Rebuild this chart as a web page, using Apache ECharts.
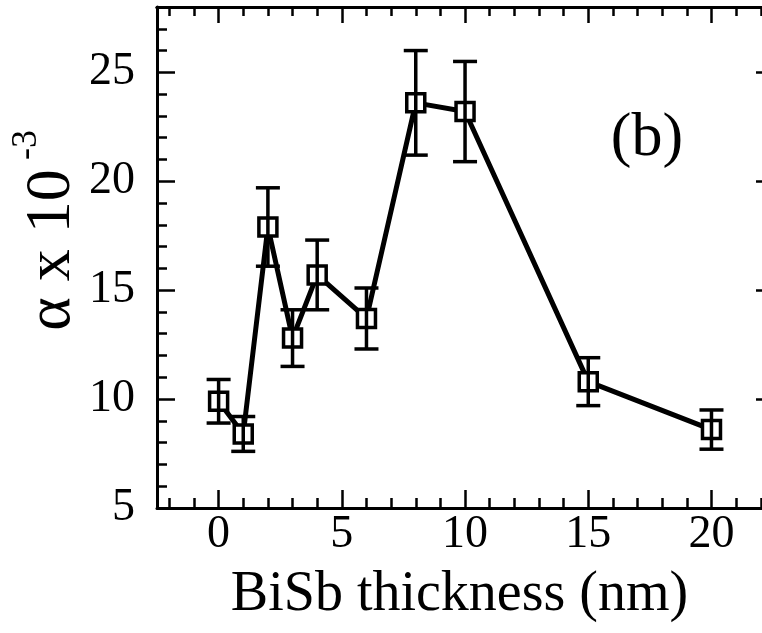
<!DOCTYPE html>
<html>
<head>
<meta charset="utf-8">
<script src="https://cdn.jsdelivr.net/npm/echarts@6/dist/echarts.min.js"></script>
<style>
  html, body { margin: 0; padding: 0; background: #fff; }
  #chart { width: 762px; height: 633px; }
</style>
</head>
<body>
<div id="chart"></div>
<script>
  // BiSb thickness (nm) vs alpha x 10^-3
  const thickness = [0, 1, 2, 3, 4, 6, 8, 10, 15, 20];
  const alpha = [9.9, 8.4, 17.9, 12.8, 15.7, 13.7, 23.6, 23.2, 10.8, 8.6];
  const alphaErr = [1.0, 0.8, 1.8, 1.3, 1.6, 1.4, 2.4, 2.3, 1.1, 0.9];

  const xMajorTicks = [0, 5, 10, 15, 20];
  const xMinorTicks = [-2, -1, 1, 2, 3, 4, 6, 7, 8, 9, 11, 12, 13, 14, 16, 17, 18, 19, 21, 22];
  const yMajorTicks = [5, 10, 15, 20, 25];
  const yMinorTicks = [6, 7, 8, 9, 11, 12, 13, 14, 16, 17, 18, 19, 21, 22, 23, 24, 26, 27];

  const font = "Liberation Serif";
  // the original figure is cropped on the right, just past x = 22
  const xMin = -2.5, xMax = 22.05, yMin = 5, yMax = 28;

  const points = thickness.map((x, i) => [x, alpha[i]]);
  const bars = thickness.map((x, i) => [x, alpha[i] - alphaErr[i], alpha[i] + alphaErr[i]]);

  // one value axis, used 4 times per direction (major/minor ticks, both sides)
  function xAx(pos, ticks, len, labels) {
    return {
      type: "value", position: pos, min: xMin, max: xMax,
      splitLine: { show: false },
      axisLine: { show: labels !== undefined || pos === "top", onZero: false, lineStyle: { color: "#000", width: 3 } },
      axisTick: { inside: true, length: len, customValues: ticks, lineStyle: { color: "#000", width: 2.5 } },
      axisLabel: labels ? {
        customValues: labels, margin: 4,
        fontFamily: font, fontSize: 46, color: "#000"
      } : { show: false },
      name: labels ? "BiSb thickness (nm)" : "",
      nameLocation: "middle", nameGap: 59,
      nameTextStyle: { fontFamily: font, fontSize: 56, color: "#000" }
    };
  }
  // the right frame sits just outside the picture, only the tips of its ticks show
  function yAx(pos, ticks, len, labels) {
    return {
      type: "value", position: pos, min: yMin, max: yMax,
      offset: pos === "right" ? 12 : 0,
      splitLine: { show: false },
      axisLine: { show: labels !== undefined, onZero: false, lineStyle: { color: "#000", width: 3 } },
      axisTick: { inside: true, length: len, customValues: ticks, lineStyle: { color: "#000", width: 2.5 } },
      axisLabel: labels ? {
        customValues: labels, margin: 22,
        fontFamily: font, fontSize: 46, color: "#000"
      } : { show: false }
    };
  }

  const chart = echarts.init(document.getElementById("chart"));
  chart.setOption({
    animation: false,
    backgroundColor: "#fff",
    grid: { left: 157, top: 7, right: 0, bottom: 125, outerBoundsMode: "none" },
    xAxis: [
      xAx("bottom", xMajorTicks, 18, xMajorTicks),
      xAx("bottom", xMinorTicks, 10),
      xAx("top", xMajorTicks, 16),
      xAx("top", xMinorTicks, 9)
    ],
    yAxis: [
      yAx("left", yMajorTicks, 18, yMajorTicks),
      yAx("left", yMinorTicks, 10),
      yAx("right", yMajorTicks, 18),
      yAx("right", yMinorTicks, 10)
    ],
    graphic: [
      {
        type: "text", x: 52, y: 250, rotation: Math.PI / 2,
        style: { text: "α x 10", font: "64px " + font, fill: "#000", align: "center", verticalAlign: "middle" }
      },
      {
        type: "text", x: 27, y: 145, rotation: Math.PI / 2,
        style: { text: "-3", font: "36px " + font, fill: "#000", align: "center", verticalAlign: "middle" }
      },
      {
        type: "text", x: 647, y: 139,
        style: { text: "(b)", font: "62px " + font, fill: "#000", align: "center", verticalAlign: "middle" }
      }
    ],
    series: [
      {
        type: "line",
        data: points,
        z: 2,
        symbol: "rect",
        symbolSize: 18,
        lineStyle: { color: "#000", width: 5 },
        itemStyle: { color: "#fff", borderColor: "#000", borderWidth: 3.5 }
      },
      {
        type: "custom",
        data: bars,
        z: 3,
        renderItem: function (params, api) {
          const x = api.value(0);
          const lo = api.coord([x, api.value(1)]);
          const hi = api.coord([x, api.value(2)]);
          const w = 12;
          const st = { stroke: "#000", lineWidth: 3.5 };
          return {
            type: "group",
            children: [
              { type: "line", shape: { x1: lo[0], y1: lo[1], x2: hi[0], y2: hi[1] }, style: st },
              { type: "line", shape: { x1: lo[0] - w, y1: lo[1], x2: lo[0] + w, y2: lo[1] }, style: st },
              { type: "line", shape: { x1: hi[0] - w, y1: hi[1], x2: hi[0] + w, y2: hi[1] }, style: st }
            ]
          };
        }
      }
    ]
  });
</script>
</body>
</html>
